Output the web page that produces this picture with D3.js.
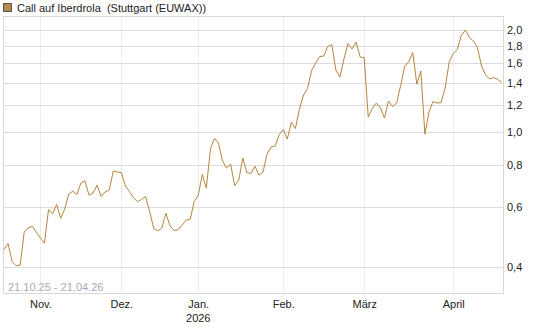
<!DOCTYPE html>
<html>
<head>
<meta charset="utf-8">
<script src="https://cdn.jsdelivr.net/npm/d3@7"></script>
<style>
  body { margin: 0; background: #fff; }
  svg { display: block; font-family: "Liberation Sans", Arial, sans-serif; }
</style>
</head>
<body>
<svg id="chart" width="545" height="327"></svg>
<script>
// one value per trading day, 21.10.25 .. 21.04.26
var prices = [
  0.450, 0.469, 0.415, 0.403, 0.405, 0.508, 0.521, 0.527, 0.506, 0.487,
  0.470, 0.590, 0.573, 0.611, 0.557, 0.592, 0.656, 0.669, 0.654, 0.707,
  0.718, 0.651, 0.661, 0.697, 0.645, 0.666, 0.674, 0.767, 0.762, 0.759,
  0.693, 0.667, 0.640, 0.623, 0.633, 0.645, 0.582, 0.519, 0.511, 0.521,
  0.576, 0.529, 0.512, 0.515, 0.531, 0.550, 0.552, 0.623, 0.651, 0.749,
  0.683, 0.891, 0.958, 0.928, 0.821, 0.783, 0.804, 0.695, 0.721, 0.838,
  0.760, 0.754, 0.793, 0.746, 0.762, 0.861, 0.903, 0.909, 0.983, 1.017,
  0.953, 1.070, 1.024, 1.169, 1.286, 1.344, 1.519, 1.598, 1.670, 1.676,
  1.788, 1.812, 1.524, 1.453, 1.642, 1.825, 1.758, 1.843, 1.665, 1.659,
  1.107, 1.175, 1.218, 1.181, 1.100, 1.234, 1.188, 1.218, 1.371, 1.563,
  1.612, 1.716, 1.385, 1.514, 0.986, 1.145, 1.230, 1.218, 1.222, 1.348,
  1.609, 1.705, 1.752, 1.927, 2.000, 1.901, 1.856, 1.770, 1.566, 1.473,
  1.433, 1.448, 1.430, 1.402
];
// month starts as trading-day index
var monthIdx = [9, 29, 48, 69, 89, 111];
var monthLabels = ['Nov.', 'Dez.', 'Jan.', 'Feb.', 'März', 'April'];
var yearLabels = ['', '', '2026', '', '', ''];
var yTicks = [0.4, 0.6, 0.8, 1.0, 1.2, 1.4, 1.6, 1.8, 2.0];

var legendText = 'Call auf Iberdrola  (Stuttgart (EUWAX))';
var rangeText = '21.10.25 - 21.04.26';

var lineColor = '#b5853e';
var plotL = 3, plotR = 503, plotT = 16, plotB = 293;

var svg = d3.select('#chart');

var x = d3.scaleLinear().domain([0, prices.length - 1]).range([4, 501.8]);
var y = d3.scaleLog().domain([0.335, 2.2]).range([plotB, plotT]);

// vertical grid
svg.append('g').selectAll('line').data(monthIdx).enter().append('line')
  .attr('x1', function(d) { return Math.round(x(d)) + 0.5; })
  .attr('x2', function(d) { return Math.round(x(d)) + 0.5; })
  .attr('y1', plotT).attr('y2', plotB)
  .style('stroke', '#ececec');

// horizontal grid
svg.append('g').selectAll('line').data(yTicks).enter().append('line')
  .attr('x1', plotL).attr('x2', plotR)
  .attr('y1', function(d) { return Math.round(y(d)) + 0.5; })
  .attr('y2', function(d) { return Math.round(y(d)) + 0.5; })
  .style('stroke', '#dcdcdc');

// frame
svg.append('rect')
  .attr('x', plotL + 0.5).attr('y', plotT + 0.5)
  .attr('width', plotR - plotL).attr('height', plotB - plotT)
  .style('fill', 'none').style('stroke', '#d8d8d8');

// y labels on right
var yAxis = d3.axisRight(y).tickValues(yTicks).tickSize(0).tickPadding(4)
  .tickFormat(function(d) { return d3.format('.1f')(d).replace('.', ','); });
var gy = svg.append('g').attr('transform', 'translate(' + plotR + ',0)').call(yAxis);
gy.select('.domain').remove();
gy.selectAll('text').style('font-size', '11px').style('fill', '#222')
  .style('font-family', '"Liberation Sans", Arial, sans-serif');

// x labels
var xAxis = d3.axisBottom(x).tickValues(monthIdx).tickSize(0).tickPadding(7)
  .tickFormat(function(d, i) { return monthLabels[i]; });
var gx = svg.append('g').attr('transform', 'translate(0,' + plotB + ')').call(xAxis);
gx.select('.domain').remove();
gx.selectAll('text').style('font-size', '11px').style('fill', '#222')
  .style('font-family', '"Liberation Sans", Arial, sans-serif');

svg.append('g').selectAll('text').data(monthIdx).enter().append('text')
  .attr('x', function(d) { return x(d); })
  .attr('y', 322)
  .attr('text-anchor', 'middle')
  .style('font-size', '11px').style('fill', '#222')
  .text(function(d, i) { return yearLabels[i]; });

// price line
var line = d3.line()
  .x(function(d, i) { return x(i); })
  .y(function(d) { return y(d); });
svg.append('path').datum(prices)
  .attr('d', line)
  .style('fill', 'none')
  .style('stroke', lineColor)
  .style('stroke-width', 1);

// date range
svg.append('text').attr('x', 8).attr('y', 291)
  .style('font-size', '11px').style('fill', '#a4abb8')
  .text(rangeText);

// legend
svg.append('rect').attr('x', 3.5).attr('y', 3.5).attr('width', 8).attr('height', 8)
  .style('fill', '#b8894a').style('stroke', '#555');
svg.append('text').attr('x', 17).attr('y', 12)
  .style('font-size', '11px').style('fill', '#222')
  .style('white-space', 'pre')
  .text(legendText);
</script>
</body>
</html>
